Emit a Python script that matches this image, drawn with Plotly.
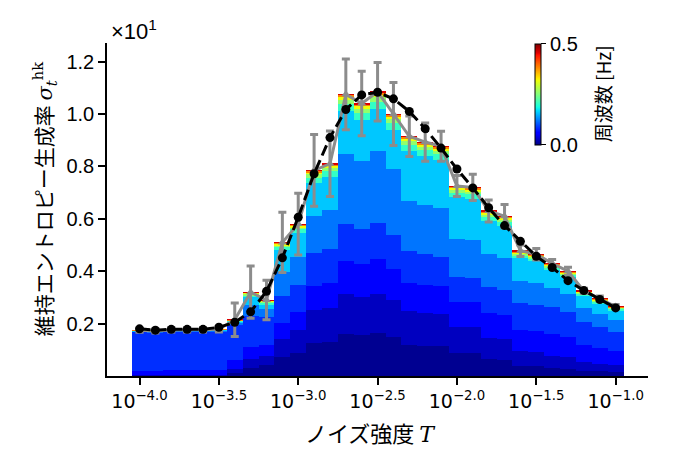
import plotly.graph_objects as go

# ---------------- data ----------------
log10_T = [-4.0, -3.9, -3.8, -3.7, -3.6, -3.5, -3.4, -3.3, -3.2, -3.1,
           -3.0, -2.9, -2.8, -2.7, -2.6, -2.5, -2.4, -2.3, -2.2, -2.1,
           -2.0, -1.9, -1.8, -1.7, -1.6, -1.5, -1.4, -1.3, -1.2, -1.1, -1.0]

# measured mean (grey) and its error bar, in units of 10^1
sigma_mean = [0.175, 0.172, 0.176, 0.176, 0.176, 0.178, 0.215, 0.32, 0.29, 0.51,
              0.58, 0.785, 0.81, 1.075, 1.04, 1.085, 1.00, 0.915, 0.893, 0.877,
              0.725, 0.72, 0.63, 0.61, 0.478, 0.465, 0.43, 0.40, 0.325, 0.295, 0.265]
sigma_err = [0.008, 0.008, 0.008, 0.008, 0.008, 0.010, 0.064, 0.10, 0.075, 0.115,
             0.118, 0.137, 0.125, 0.135, 0.123, 0.112, 0.12, 0.077, 0.073, 0.057,
             0.04, 0.05, 0.042, 0.045, 0.022, 0.022, 0.015, 0.015, 0.010, 0.010, 0.008]

# black dashed curve
sigma_model = [0.180, 0.175, 0.178, 0.178, 0.178, 0.186, 0.205, 0.245, 0.323, 0.451,
               0.606, 0.772, 0.910, 1.017, 1.073, 1.083, 1.058, 1.010, 0.944, 0.870,
               0.790, 0.718, 0.642, 0.574, 0.514, 0.457, 0.414, 0.364, 0.326, 0.292, 0.260]

# frequency bands [Hz] used for the spectral decomposition of each bar
band_lo_hz = [0.0, 0.015, 0.04, 0.07, 0.10, 0.14, 0.18, 0.23, 0.29, 0.35, 0.42]
band_hi_hz = [0.015, 0.04, 0.07, 0.10, 0.14, 0.18, 0.23, 0.29, 0.35, 0.42, 0.5]

# share of each bar carried by each band (bottom = lowest frequency)
share_b0 = [0, 0, 0, 0, 0, 0, 0.05, 0.10, 0.14, 0.14, 0.15, 0.16, 0.16, 0.15, 0.15, 0.15,
            0.15, 0.13, 0.13, 0.13, 0.12, 0.12, 0.10, 0.10, 0.08, 0.08, 0.07, 0.07, 0.06, 0.06, 0.06]
share_b1 = [0.02, 0.02, 0.02, 0.02, 0.02, 0.02, 0.08, 0.10, 0.12, 0.14, 0.15, 0.16, 0.16, 0.14, 0.14, 0.14,
            0.14, 0.14, 0.14, 0.14, 0.14, 0.14, 0.13, 0.13, 0.12, 0.12, 0.11, 0.11, 0.10, 0.10, 0.10]
share_b2 = [0.10, 0.10, 0.10, 0.10, 0.10, 0.10, 0.15, 0.15, 0.15, 0.12, 0.12, 0.12, 0.12, 0.12, 0.12, 0.12,
            0.12, 0.12, 0.12, 0.12, 0.13, 0.13, 0.15, 0.15, 0.17, 0.17, 0.19, 0.19, 0.20, 0.20, 0.20]
share_b3 = [0.84, 0.84, 0.84, 0.84, 0.84, 0.84, 0.62, 0.37, 0.37, 0.20, 0.18, 0.16, 0.16, 0.13, 0.13, 0.13,
            0.13, 0.13, 0.13, 0.13, 0.13, 0.13, 0.16, 0.16, 0.21, 0.21, 0.24, 0.24, 0.28, 0.28, 0.28]
share_b4 = [0.02, 0.02, 0.02, 0.02, 0.02, 0.02, 0.05, 0.13, 0.10, 0.18, 0.18, 0.18, 0.18, 0.25, 0.25, 0.25,
            0.25, 0.21, 0.21, 0.21, 0.20, 0.20, 0.20, 0.20, 0.18, 0.18, 0.17, 0.17, 0.16, 0.16, 0.16]
share_b5 = [0.01, 0.01, 0.01, 0.01, 0.01, 0.01, 0.02, 0.09, 0.06, 0.16, 0.16, 0.16, 0.16, 0.15, 0.15, 0.15,
            0.15, 0.21, 0.21, 0.21, 0.22, 0.22, 0.20, 0.20, 0.18, 0.18, 0.16, 0.16, 0.14, 0.14, 0.14]
share_b6 = [0.004] * 6 + [0.010] + [0.025] * 24
share_b7 = [0.002] * 6 + [0.008] + [0.015] * 24
share_b8 = [0.002] * 6 + [0.006] + [0.010] * 24
share_b9 = [0.002] * 6 + [0.005] + [0.008] * 24
share_b10 = [0.0] * 6 + [0.001] + [0.002] * 24

shares = [share_b0, share_b1, share_b2, share_b3, share_b4, share_b5,
          share_b6, share_b7, share_b8, share_b9, share_b10]

x_tickvals = [-4.0, -3.5, -3.0, -2.5, -2.0, -1.5, -1.0]
x_ticklabels = ["10<sup>\u22124.0</sup>", "10<sup>\u22123.5</sup>", "10<sup>\u22123.0</sup>",
                "10<sup>\u22122.5</sup>", "10<sup>\u22122.0</sup>", "10<sup>\u22121.5</sup>",
                "10<sup>\u22121.0</sup>"]
y_tickvals = [0.2, 0.4, 0.6, 0.8, 1.0, 1.2]
y_ticklabels = ["0.2", "0.4", "0.6", "0.8", "1.0", "1.2"]

# ---------------- style ----------------
JET = [[0.0, "rgb(0,0,128)"], [0.11, "rgb(0,0,255)"], [0.125, "rgb(0,0,255)"],
       [0.34, "rgb(0,219,255)"], [0.375, "rgb(20,255,226)"], [0.5, "rgb(130,255,125)"],
       [0.64, "rgb(238,255,8)"], [0.66, "rgb(255,236,0)"], [0.89, "rgb(255,18,0)"],
       [0.91, "rgb(228,0,0)"], [1.0, "rgb(128,0,0)"]]


def jet(v):
    for (a, ca), (b, cb) in zip(JET[:-1], JET[1:]):
        if a <= v <= b:
            t = 0 if b == a else (v - a) / (b - a)
            pa = [int(s) for s in ca[4:-1].split(",")]
            pb = [int(s) for s in cb[4:-1].split(",")]
            c = [round(pa[k] + t * (pb[k] - pa[k])) for k in range(3)]
            return "rgb(%d,%d,%d)" % tuple(c)
    return JET[-1][1]


FMAX = 0.5
BAR_W = 0.1
GREY = "rgb(140,140,140)"
CJK = "Noto Sans CJK JP"
SANS = "Liberation Sans"

fig = go.Figure()

totals = [sum(s[i] for s in shares) for i in range(len(log10_T))]
for k, s in enumerate(shares):
    fc = 0.5 * (band_lo_hz[k] + band_hi_hz[k])
    heights = [sigma_mean[i] * s[i] / totals[i] for i in range(len(log10_T))]
    fig.add_trace(go.Bar(
        x=log10_T, y=heights, width=BAR_W,
        marker=dict(color=jet(fc / FMAX), line=dict(width=0)),
        showlegend=False, hoverinfo="skip"))

fig.add_trace(go.Scatter(
    x=log10_T, y=sigma_mean, mode="lines+markers",
    line=dict(color=GREY, width=3),
    marker=dict(color=GREY, size=8, symbol="triangle-up"),
    error_y=dict(type="data", array=sigma_err, color=GREY, thickness=3, width=4),
    showlegend=False))

fig.add_trace(go.Scatter(
    x=log10_T, y=sigma_model, mode="lines+markers",
    line=dict(color="black", width=3, dash="11px,5px"),
    marker=dict(color="black", size=9),
    showlegend=False))

# colour bar carrier (point outside visible range)
fig.add_trace(go.Scatter(
    x=[-10], y=[-10], mode="markers",
    marker=dict(color=[0.0], cmin=0.0, cmax=FMAX, colorscale=JET, showscale=True,
                colorbar=dict(x=0.792, xanchor="left", xpad=0, ypad=0,
                              y=0.846, yanchor="middle", len=101, lenmode="pixels",
                              thickness=6, thicknessmode="pixels",
                              outlinewidth=1, outlinecolor="black",
                              tickvals=[0.0, 0.5], ticktext=["0.0", "0.5"],
                              ticks="outside", ticklen=5, tickwidth=1, tickcolor="black",
                              tickfont=dict(family=SANS, size=20, color="black"))),
    showlegend=False, hoverinfo="skip"))

fig.update_layout(
    width=675, height=451,
    margin=dict(l=107, r=27, t=43, b=75),
    paper_bgcolor="white", plot_bgcolor="white",
    barmode="stack", bargap=0,
    xaxis=dict(range=[-4.205, -0.796], showgrid=False, zeroline=False,
               showline=True, linecolor="black", linewidth=1.5,
               ticks="outside", ticklen=7, tickwidth=1.5, tickcolor="black",
               tickvals=x_tickvals, ticktext=x_ticklabels,
               tickfont=dict(family="DejaVu Sans", size=19, color="black")),
    yaxis=dict(range=[0, 1.271], showgrid=False, zeroline=False,
               showline=True, linecolor="black", linewidth=1.5,
               ticks="outside", ticklen=7, tickwidth=1.5, tickcolor="black",
               tickvals=y_tickvals, ticktext=y_ticklabels,
               tickfont=dict(family=SANS, size=20, color="black")),
)

fig.add_annotation(xref="paper", yref="paper", x=0.004, y=0.99, xanchor="left", yanchor="bottom",
                   text="\u00d710<sup>1</sup>", showarrow=False,
                   font=dict(family=SANS, size=22, color="black"))
fig.add_annotation(xref="paper", yref="paper", x=-0.117, y=0.53, xanchor="center", yanchor="middle",
                   textangle=-90, showarrow=False,
                   text="維持エントロピー生成率 <span style='font-family:DejaVu Serif'><i>σ</i><sub><i>t</i></sub><sup>hk</sup></span>",
                   font=dict(family=CJK, size=21, color="black"))
fig.add_annotation(xref="paper", yref="paper", x=0.487, y=-0.168, xanchor="center", yanchor="middle",
                   showarrow=False,
                   text="ノイズ強度 <span style='font-family:DejaVu Serif'><i>T</i></span>",
                   font=dict(family=CJK, size=22, color="black"))
fig.add_annotation(xref="paper", yref="paper", x=0.915, y=0.846, xanchor="center", yanchor="middle",
                   textangle=-90, showarrow=False, text="周波数 [Hz]",
                   font=dict(family=CJK, size=19, color="black"))

fig.write_html("out.html")
